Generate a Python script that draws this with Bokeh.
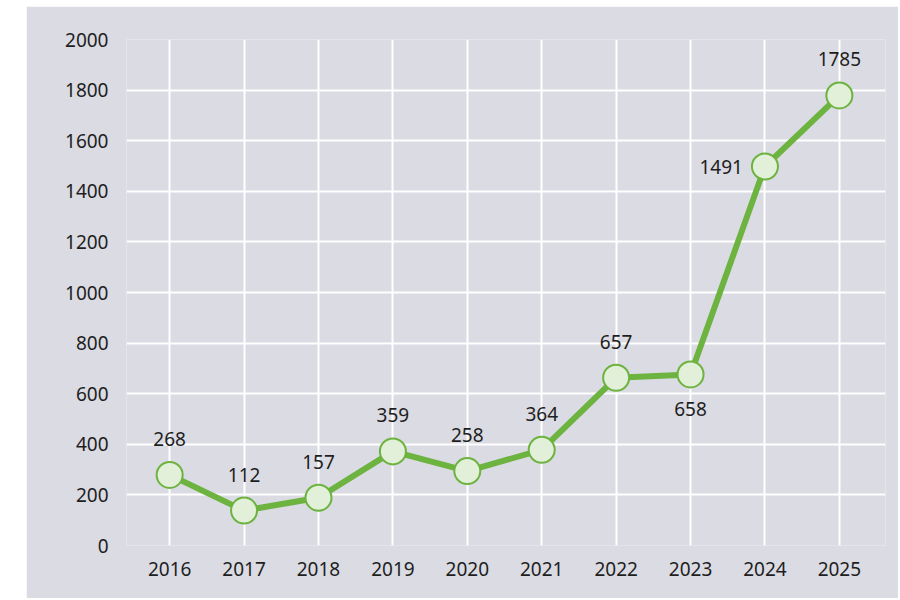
from bokeh.plotting import figure
from bokeh.models import ColumnDataSource, FixedTicker, Range1d, Spacer
from bokeh.layouts import row, column
from bokeh.core.properties import value
from bokeh.embed import file_html
from bokeh.resources import INLINE

years = [2016, 2017, 2018, 2019, 2020, 2021, 2022, 2023, 2024, 2025]
values = [279, 138, 189, 372, 294, 378, 663, 676, 1498, 1779]
labels = ["268", "112", "157", "359", "258", "364", "657", "658", "1491", "1785"]
y_ticks = [0, 200, 400, 600, 800, 1000, 1200, 1400, 1600, 1800, 2000]

BG = "#dbdbe3"
GREEN = "#6db33f"
FILL = "#e3f0d9"
TXT = "#1e1e1e"
FONT = "Noto Sans"

p = figure(width=872, height=592, output_backend="svg", toolbar_location=None,
           x_range=Range1d(2015.42, 2025.62), y_range=Range1d(0, 2000),
           min_border_left=100, min_border_right=13, min_border_top=33, min_border_bottom=53)
p.background_fill_color = BG
p.border_fill_color = BG
p.outline_line_color = None

for ax in (p.xaxis[0], p.yaxis[0]):
    ax.axis_line_color = None
    ax.major_tick_line_color = None
    ax.minor_tick_line_color = None
    ax.major_label_text_font = FONT
    ax.major_label_text_font_size = "19px"
    ax.major_label_text_color = TXT
p.xaxis[0].ticker = FixedTicker(ticks=years)
p.yaxis[0].ticker = FixedTicker(ticks=y_ticks)
p.xaxis[0].major_label_standoff = 10
p.yaxis[0].major_label_standoff = 12

p.xgrid.grid_line_color = "white"
p.ygrid.grid_line_color = "white"
p.xgrid.grid_line_width = 2
p.ygrid.grid_line_width = 2

src = ColumnDataSource(dict(x=years, y=values, label=labels))
p.line("x", "y", source=src, line_color=GREEN, line_width=6)
p.scatter("x", "y", source=src, size=26, fill_color=FILL, line_color=GREEN, line_width=2)

above_idx = [0, 1, 2, 3, 4, 5, 6, 9]
above = ColumnDataSource(dict(x=[years[i] for i in above_idx], y=[values[i] for i in above_idx],
                              label=[labels[i] for i in above_idx]))
p.text("x", "y", text="label", source=above, y_offset=-36, text_align="center",
       text_baseline="middle", text_font=value(FONT), text_font_size="19px", text_color=TXT)

below = ColumnDataSource(dict(x=[years[7]], y=[values[7]], label=[labels[7]]))
p.text("x", "y", text="label", source=below, y_offset=35, text_align="center",
       text_baseline="middle", text_font=value(FONT), text_font_size="19px", text_color=TXT)

left = ColumnDataSource(dict(x=[years[8]], y=[values[8]], label=[labels[8]]))
p.text("x", "y", text="label", source=left, x_offset=-22, text_align="right",
       text_baseline="middle", text_font=value(FONT), text_font_size="19px", text_color=TXT)

layout = column(Spacer(width=10, height=6), row(Spacer(width=26, height=10), p))
open("out.html", "w").write(file_html(layout, INLINE))
